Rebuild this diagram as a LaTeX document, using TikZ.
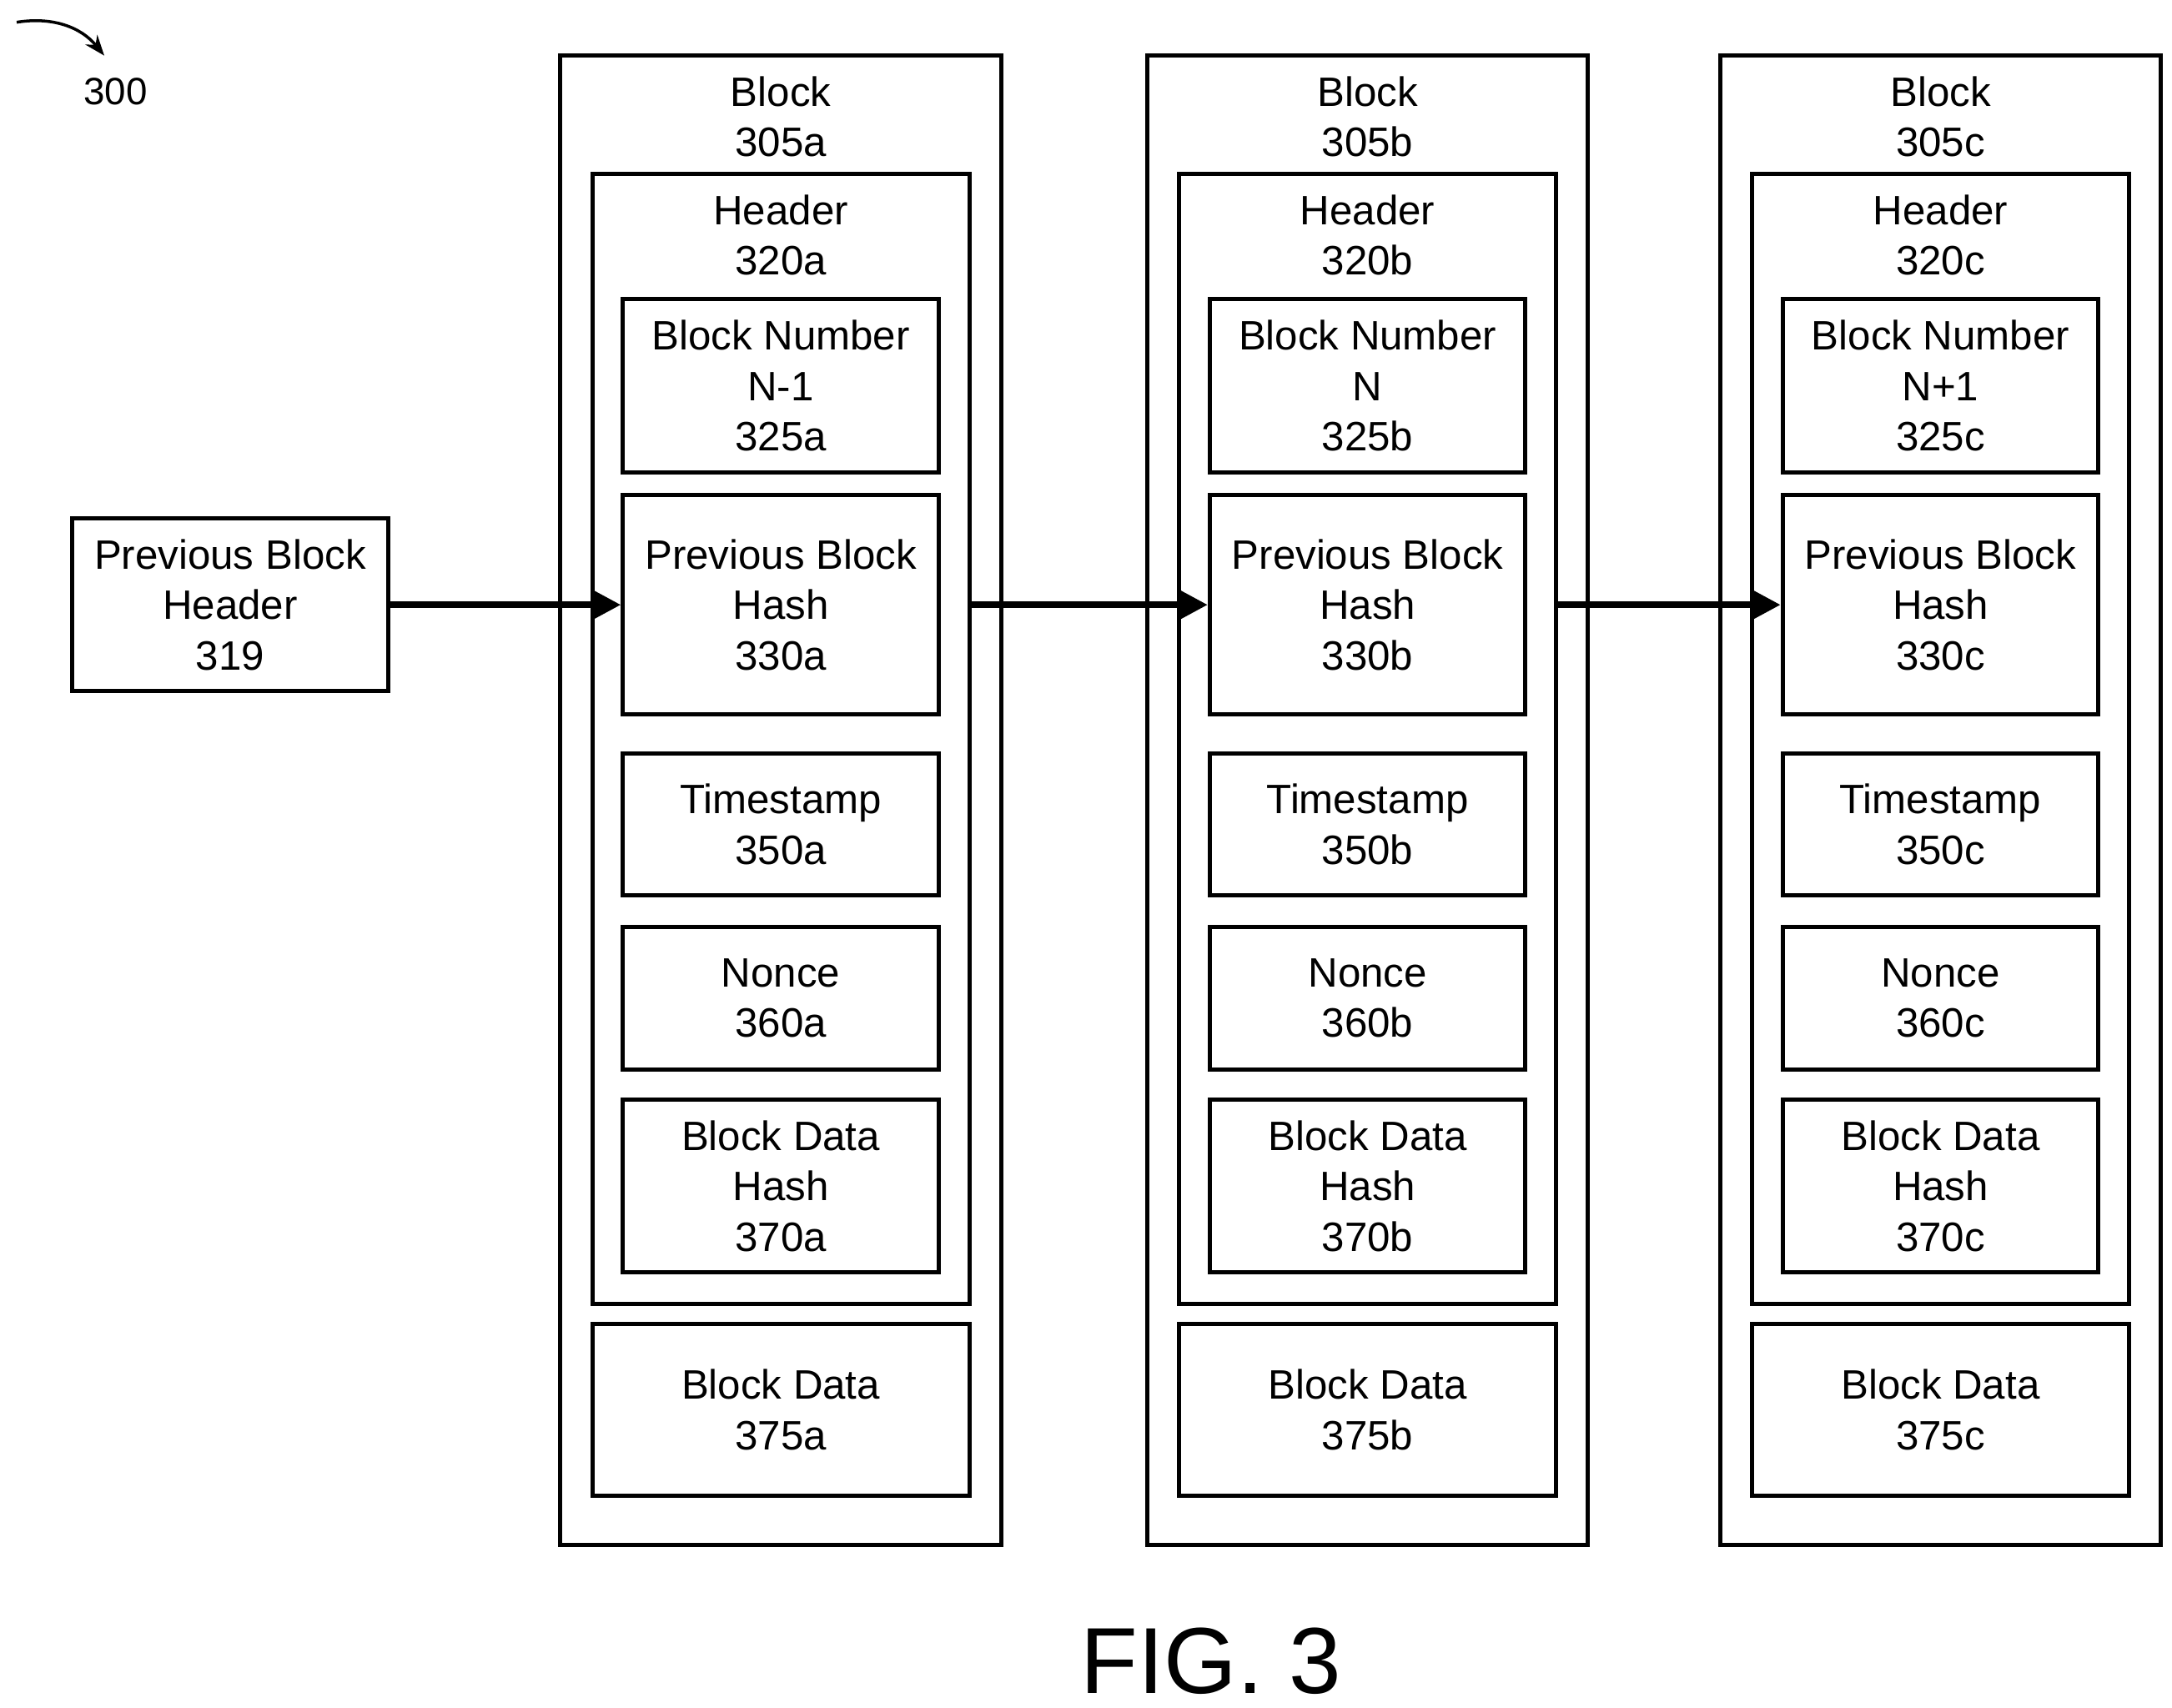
\documentclass[tikz,border=0pt]{standalone}
\usepackage{fontspec}
\setmainfont{Liberation Sans}
\usetikzlibrary{arrows.meta}

\tikzset{
  box/.style={draw, line width=1.4pt, inner sep=0pt, align=center,
    font=\fontsize{14}{17.2}\selectfont},
  link/.style={line width=2.2pt, -{Triangle[length=10pt,width=10pt]}}
}

\begin{document}
\begin{tikzpicture}[x=0.016667cm, y=-0.016667cm]
  \useasboundingbox (0,0) rectangle (1562,1228);
  \node[box, minimum width=3.783cm, minimum height=2.067cm] (prev) at (165.5,435) {Previous Block\\Header\\319};
  \foreach \s/\dx/\num in {a/0/N-1, b/422/N, c/834/N+1} {
    \begin{scope}[xshift=\dx*0.016667cm]
      \node[box, minimum width=5.283cm, minimum height=17.85cm] (block\s) at (561.5,575.5) {};
      \node[box, draw=none] (blocklbl\s) at (561.5,84) {Block\\305\s};
      \node[box, minimum width=4.517cm, minimum height=13.55cm] (header\s) at (561.5,531.5) {};
      \node[box, draw=none] (headerlbl\s) at (561.5,169) {Header\\320\s};
      \node[box, minimum width=3.783cm, minimum height=2.083cm] (num\s) at (561.5,277.5) {Block Number\\\num\\325\s};
      \node[box, minimum width=3.783cm, minimum height=2.633cm] (hash\s) at (561.5,435) {Previous Block\\Hash\\330\s};
      \node[box, minimum width=3.783cm, minimum height=1.7cm] (time\s) at (561.5,593) {Timestamp\\350\s};
      \node[box, minimum width=3.783cm, minimum height=1.7cm] (nonce\s) at (561.5,718) {Nonce\\360\s};
      \node[box, minimum width=3.783cm, minimum height=2.067cm] (dhash\s) at (561.5,853) {Block Data\\Hash\\370\s};
      \node[box, minimum width=4.517cm, minimum height=2.067cm] (data\s) at (561.5,1014) {Block Data\\375\s};
    \end{scope}
  }
  \draw[link] (prev.east) -- (hasha.west);
  \draw[link] (headera.east |- hasha) -- (hashb.west);
  \draw[link] (headerb.east |- hashb) -- (hashc.west);
  % figure label
  \node[font=\fontsize{13}{15}\selectfont] (ref) at (83,66) {300};
  \coordinate (refstart) at (12,16);
  \coordinate (refend) at (75,40);
  \draw[line width=1pt, -{Stealth[length=7pt]}] (refstart) to[bend left=30] (refend);
  \node[font=\fontsize{32}{36}\selectfont] (fig) at (871,1195) {FIG. 3};
\end{tikzpicture}
\end{document}
